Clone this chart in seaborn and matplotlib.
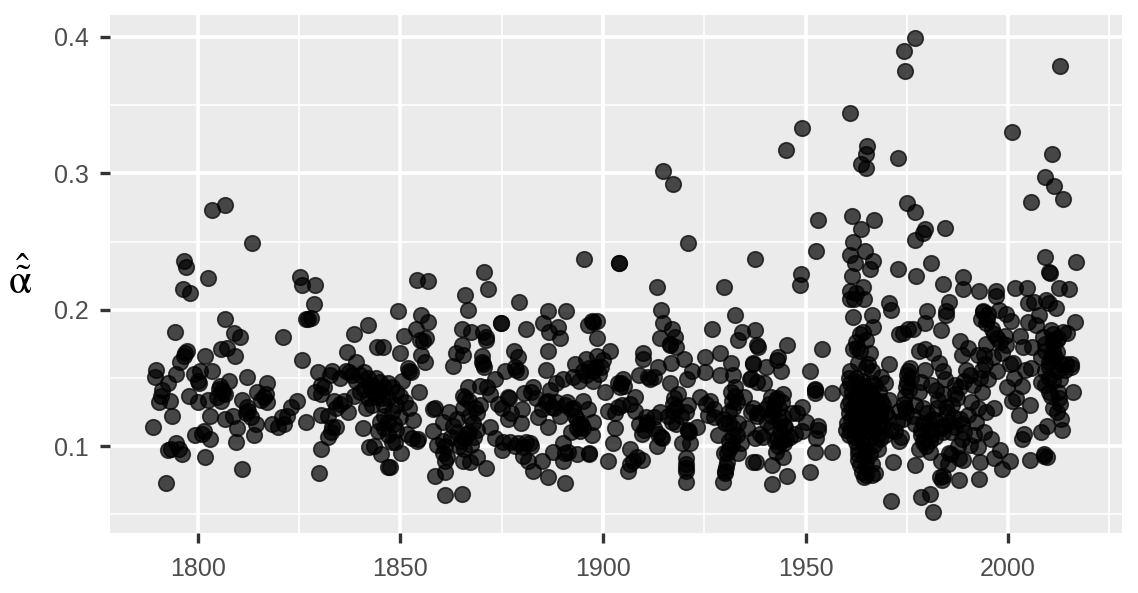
import seaborn as sns
import pandas as pd
import matplotlib
matplotlib.use("Agg")
import matplotlib.pyplot as plt
from matplotlib.ticker import MultipleLocator

# (year, alpha), split by period
pts_1789_1830 = [
    (1789, .114), (1789.7, .156), (1789.5, .151), (1792, .073), (1794.6, .153), (1792.6, .146),
    (1791, .137), (1793.2, .133), (1790.5, .132), (1791.2, .141), (1793.7, .122), (1794.6, .102), (1792.7, .097),
    (1793.4, .098), (1795.3, .098), (1796, .094), (1796.5, .236), (1797, .231), (1796.4, .215), (1798, .212),
    (1794.3, .184), (1797.2, .170), (1796.5, .166), (1795.7, .162), (1796.8, .168), (1799, .153), (1800.2, .146),
    (1800, .148), (1800.5, .155), (1801.7, .166), (1803.5, .155), (1797.8, .137), (1800, .132), (1802.5, .134),
    (1803, .122), (1802.6, .223), (1803.6, .273), (1806.8, .277), (1813.4, .249), (1806.7, .193), (1808.9, .183),
    (1810.5, .180), (1805.6, .171), (1807.2, .172), (1809.1, .166), (1807.7, .148), (1812.2, .151), (1805.2, .142),
    (1806, .141), (1804.8, .136), (1805.6, .133), (1806.8, .138), (1806.2, .139), (1805.4, .144), (1799.4, .108),
    (1801.5, .111), (1801, .109), (1802.9, .105), (1801.7, .092), (1806.7, .120), (1808.7, .122), (1809.7, .113),
    (1809.3, .103), (1810.8, .083), (1810.8, .134), (1812.2, .129), (1811.8, .124), (1813, .121), (1812.4, .126),
    (1814.3, .116), (1813.8, .108), (1814.6, .140), (1817, .146), (1816.3, .136), (1817.1, .132), (1816.7, .138),
    (1815.6, .134), (1818.4, .116), (1819.8, .114), (1821.2, .116), (1820.7, .121), (1821.9, .122), (1823.1, .129),
    (1824.5, .133), (1821, .180), (1826.7, .118), (1825.1, .224), (1825.6, .218), (1829, .218), (1828.6, .204),
    (1826.6, .193), (1827.8, .194), (1827.2, .193), (1825.8, .163), (1829.6, .154), (1830.3, .145), (1829, .140),
    (1830.3, .138), (1830.3, .123), (1830.5, .098), (1830, .080),
]

pts_1831_1857 = [
    (1832, .122), (1833.2, .114), (1832, .107), (1832.8, .110), (1834, .114), (1833.6, .133), (1833.2, .155),
    (1832.5, .152), (1831, .143), (1835, .131), (1836.9, .169), (1838.6, .182), (1842.1, .189), (1839, .162),
    (1837.3, .154), (1841, .154), (1840.7, .113), (1842.2, .099), (1844.3, .173), (1835, .150), (1836.5, .155),
    (1838, .152), (1839, .148), (1840, .152), (1842, .150), (1843, .145), (1841, .142), (1840, .140), (1838.5, .137),
    (1836, .133), (1834, .128), (1837, .125), (1842, .135), (1843, .130), (1844, .136), (1845, .140), (1846, .143),
    (1847, .146), (1848, .143), (1849, .140), (1850, .137), (1847, .135), (1846, .130), (1849, .130), (1851, .132),
    (1852, .128), (1848, .125), (1846, .122), (1845, .118), (1847, .118), (1848.5, .116), (1846, .113), (1844.5, .111),
    (1847, .108), (1848, .103), (1850.2, .095), (1845.3, .094), (1847, .085), (1847.5, .085), (1843.5, .100),
    (1844, .150), (1845, .147), (1842.5, .143), (1843.5, .139), (1845.5, .135), (1841.5, .128), (1849.3, .199),
    (1854.2, .222), (1856.9, .221), (1855, .196), (1856.8, .191), (1853.8, .186), (1850.8, .181), (1854.8, .178),
    (1856.3, .179), (1855.5, .177), (1845.6, .173), (1850, .168), (1855, .167), (1856, .162), (1851.9, .157),
    (1852.7, .154), (1852.2, .155), (1854.6, .140), (1853.1, .119), (1854.1, .104), (1854.3, .105), (1848.6, .103),
    (1850, .121), (1849, .112), (1851.5, .109), (1852.9, .106), (1850.5, .148),
]

pts_1858_1880 = [
    (1858.5, .128), (1858, .127), (1862, .125), (1858, .111), (1860.5, .118), (1859, .101), (1860.5, .104), (1861, .100),
    (1861.5, .092), (1861, .089), (1860.5, .095), (1862.5, .107), (1864, .110), (1864, .120), (1863, .115),
    (1858.5, .078), (1861, .081), (1861.1, .064), (1865.3, .065), (1865.5, .089), (1867.1, .088), (1868.9, .092),
    (1871, .084), (1866, .211), (1866.6, .200), (1870.7, .228), (1871.7, .215), (1865.3, .186), (1867.3, .184),
    (1870.4, .184), (1871.2, .178), (1871, .180), (1865.3, .174), (1863.7, .168), (1865.5, .167), (1863, .159),
    (1870.2, .166), (1870.4, .160), (1870.6, .158), (1870.2, .162), (1866.7, .143), (1865.4, .137), (1873.3, .149),
    (1871.3, .143), (1869.6, .144), (1872, .138), (1867, .133), (1866, .135), (1868.5, .128), (1865.5, .128),
    (1869, .124), (1867, .122), (1867.8, .117), (1866.3, .109), (1868.2, .107), (1867, .110), (1865, .104),
    (1866, .106), (1869, .112), (1869.6, .130), (1864.5, .100), (1865.8, .098), (1867.5, .101), (1872, .114),
    (1873.3, .106), (1875, .097), (1875.4, .103), (1878.2, .100), (1880.2, .099), (1881.9, .102), (1880.2, .093),
    (1881.5, .089), (1882.6, .082), (1874.8, .190), (1874.8, .190), (1879.2, .206), (1880.9, .186), (1878, .170),
    (1879, .165), (1875.8, .155), (1878.2, .158), (1879.4, .154), (1878.6, .156), (1876.6, .136), (1874.1, .131),
    (1875, .128), (1879.9, .127), (1877.4, .124), (1876.6, .120), (1879.7, .117), (1880.5, .139), (1876.9, .135),
    (1877, .103), (1879, .102), (1881, .103), (1882.2, .100),
]

pts_1881_1912 = [
    (1882.8, .143), (1882.2, .140), (1884, .121), (1886.3, .114), (1886, .132), (1888.5, .146), (1890.1, .149),
    (1886.9, .141), (1885, .089), (1886.3, .077), (1890.6, .073), (1886.3, .199), (1890.8, .199), (1885.2, .190),
    (1886.6, .184), (1888.9, .187), (1889.5, .179), (1886.5, .170), (1886, .156), (1892.6, .151), (1894, .148),
    (1893, .160), (1895.9, .164), (1895.1, .155), (1898.4, .166), (1901.7, .170), (1900, .163), (1897.4, .155),
    (1898.2, .158), (1896.5, .157), (1897.6, .148), (1895.4, .237), (1904, .234), (1904, .234), (1897.2, .192),
    (1898.4, .192), (1896.4, .189), (1897.6, .191), (1898.4, .179), (1900.5, .140), (1901.3, .126), (1903.7, .146),
    (1905, .149), (1904.2, .143), (1907.9, .136), (1906.7, .131), (1903.7, .129), (1907.9, .126), (1902.9, .113),
    (1902.5, .102), (1901.3, .089), (1896.5, .094), (1896.5, .095), (1893.5, .094), (1891.4, .096), (1887.7, .096),
    (1890.2, .089), (1890.2, .102), (1890.5, .095), (1897.6, .118), (1897.2, .108), (1892, .110), (1894.4, .111),
    (1895.1, .133), (1896.3, .127), (1893.5, .119), (1889.3, .122), (1891, .132), (1888.5, .132), (1886.5, .133),
    (1892.5, .128), (1893.5, .113), (1894.5, .116), (1906.6, .098), (1908.3, .092), (1909.5, .090), (1906.2, .082),
    (1906.6, .087), (1907.5, .089), (1909.5, .109), (1909, .116), (1910.7, .121), (1909.9, .168), (1909.9, .164),
    (1909, .152), (1911, .151), (1912.5, .151), (1911.5, .149), (1883.5, .135), (1885, .127), (1887.5, .129),
    (1894, .116), (1893, .122), (1895, .113), (1892, .127), (1890.5, .130), (1888, .128), (1895.8, .152), (1899, .153),
    (1899.6, .158), (1904.5, .146), (1905.2, .144), (1903, .124), (1904.8, .130), (1910, .112), (1910.8, .118),
]

pts_1913_1938 = [
    (1914.8, .302), (1917.3, .292), (1921, .249), (1937.6, .237), (1913.4, .217), (1929.8, .217), (1914.4, .200),
    (1914.9, .190), (1916.9, .186), (1914, .179), (1917.7, .180), (1916.5, .174), (1916.6, .175), (1918, .173),
    (1913.6, .158), (1916.7, .161), (1920, .164), (1925.1, .165), (1928.9, .168), (1932.6, .196), (1927, .186),
    (1934.4, .184), (1933.4, .178), (1937.6, .185), (1937.9, .174), (1931.7, .161), (1936.9, .161), (1921.9, .155),
    (1920.7, .149), (1925.2, .154), (1928.9, .152), (1932, .152), (1936.3, .149), (1916.5, .146), (1918.6, .138),
    (1917.3, .131), (1917.3, .126), (1917.5, .135), (1918, .128), (1921, .130), (1920.6, .125), (1919.2, .122),
    (1913.2, .100), (1914.4, .107), (1914.5, .106), (1914, .125), (1912.5, .121), (1910.8, .116), (1921, .111),
    (1921, .112), (1921.2, .110), (1923.3, .114), (1919.5, .102), (1921.5, .102), (1920.6, .091), (1920.4, .087),
    (1920.4, .082), (1920.4, .074), (1920.5, .084), (1924, .136), (1926.5, .133), (1926, .123), (1927.3, .121),
    (1930, .117), (1928.3, .108), (1932, .107), (1933.4, .117), (1934, .102), (1930.6, .095), (1929.9, .095),
    (1933.4, .095), (1930, .080), (1929.6, .074), (1930.4, .085), (1930.2, .082), (1937, .088), (1931.8, .133),
    (1932.5, .143), (1932, .128), (1934.8, .136), (1936.5, .125), (1935.6, .113), (1937.5, .106), (1938, .122),
    (1931, .125), (1932.2, .113), (1931.8, .101), (1931.2, .098), (1930.5, .088), (1931.5, .140), (1932.5, .137),
    (1933, .132), (1931, .117), (1929.5, .120), (1927.5, .127), (1925.5, .131), (1933, .108), (1931, .104),
    (1917, .118), (1916, .122), (1918, .116), (1912.5, .113), (1913.5, .109),
]

pts_1938_1959 = [
    (1948.9, .226), (1948.5, .218), (1953, .266), (1952.6, .243), (1938.2, .173),
    (1945.5, .174), (1943.2, .165), (1943, .163), (1940.3, .158), (1944, .155), (1937, .160), (1936.5, .150), (1939.8, .146),
    (1938, .147), (1944.5, .138), (1941.5, .136), (1942.3, .128), (1948, .124), (1949, .129), (1938, .124),
    (1937, .128), (1949, .111), (1953, .112), (1953, .115), (1952.6, .106), (1952.2, .096), (1956.4, .096), (1951.2, .081),
    (1945.5, .078), (1941.8, .072), (1941.6, .086), (1937.8, .088), (1944.4, .092), (1943.2, .100), (1944.6, .102),
    (1942.6, .096), (1939.6, .107), (1941.5, .114), (1945, .114), (1950, .118), (1951, .155), (1954, .171),
    (1952.2, .142), (1952.2, .139), (1952.3, .141), (1956.6, .139), (1949, .333), (1945.1, .317), (1943.5, .128),
    (1943.8, .110), (1945.2, .105), (1946.2, .107), (1947.5, .109), (1944.5, .121), (1940.4, .118), (1938.8, .109),
    (1942.4, .104), (1946.6, .124), (1944.2, .132), (1941.8, .122), (1941, .131), (1943, .135), (1942, .126),
    (1943.8, .118), (1944.7, .115), (1943, .106), (1944, .104), (1942.8, .134), (1940, .127),
]

pts_1960_1970 = [
    (1961, .344), (1965.1, .320), (1965, .314), (1963.7, .307), (1965, .304), (1961.4, .269), (1963.7, .259),
    (1967, .266), (1961.8, .250), (1964.7, .243), (1960.9, .240), (1966.6, .236), (1962.1, .234), (1966, .230),
    (1961.5, .225), (1960.9, .214), (1964.1, .217), (1962.4, .212), (1962, .208), (1964.5, .208), (1960.9, .208),
    (1961.8, .195), (1966.4, .196), (1966.6, .187), (1964.2, .184), (1963.4, .182), (1965, .178), (1961.7, .171),
    (1962.6, .172), (1965.8, .168), (1963, .161), (1965, .158), (1961, .155), (1962.5, .150), (1964, .148),
    (1966.5, .146), (1968.5, .151), (1970.5, .160), (1963, .146), (1961, .146), (1961.5, .140), (1963.3, .142),
    (1965, .140), (1962.1, .136), (1964.3, .135), (1966.5, .137), (1961, .133), (1963, .132), (1965, .131),
    (1967.3, .133), (1961.5, .128), (1963.5, .127), (1965.5, .127), (1960.6, .124), (1962.4, .124), (1964.6, .123),
    (1966.7, .124), (1968.6, .126), (1961.2, .120), (1963, .119), (1965, .118), (1967, .119), (1960.2, .117),
    (1962, .115), (1964, .114), (1966, .115), (1968, .116), (1961, .112), (1963, .110), (1965, .111), (1967, .112),
    (1962, .107), (1964, .106), (1966, .106), (1962.4, .103), (1964.4, .101), (1966.8, .101), (1963, .098),
    (1965, .097), (1967.8, .098), (1963, .094), (1964.5, .093), (1966, .094), (1963, .090), (1965, .089), (1963.5, .086),
    (1965, .085), (1966.5, .087), (1964, .081), (1965, .079), (1964.4, .077), (1967.2, .080), (1966.5, .079),
    (1962.8, .126), (1964.2, .129), (1962.2, .131), (1963.8, .116), (1962.6, .139), (1966, .141), (1964.5, .144),
    (1969.5, .146), (1969, .130), (1970.5, .134), (1968.8, .115), (1969.5, .108), (1970.3, .121), (1971, .112),
    (1960.4, .130), (1960.2, .142), (1960.6, .150), (1960, .112), (1960.8, .108), (1967.5, .127), (1968, .140),
    (1968.5, .133), (1967.8, .108), (1968.5, .120), (1969.8, .124), (1967.2, .145), (1962.5, .176), (1963.5, .170),
    (1965.5, .160), (1966.5, .155), (1966, .128), (1962, .122), (1968.3, .105),
]

pts_1971_1990 = [
    (1976.9, .399), (1974.4, .390), (1974.6, .375), (1972.9, .311), (1975, .278), (1977, .272), (1979.4, .259),
    (1979, .256), (1976.9, .251), (1984.3, .260), (1972.8, .230), (1977.3, .225), (1981, .234), (1983.9, .219),
    (1988.8, .224), (1988.8, .215), (1971.1, .200), (1985.5, .206), (1984.6, .199), (1979.9, .199), (1979.4, .190),
    (1984.7, .196), (1983.5, .185), (1976.5, .186), (1975.2, .186), (1973, .182), (1974, .183), (1970.5, .205),
    (1978.1, .170), (1979.4, .171), (1981.5, .168), (1983, .161), (1984, .155), (1975.8, .157), (1975.4, .155),
    (1975, .147), (1974.6, .137), (1974.2, .131), (1975, .152), (1974.7, .143), (1978.6, .147), (1982.2, .141),
    (1982.8, .134), (1984.7, .129), (1979, .128), (1976.5, .122), (1974, .120), (1972, .111), (1973, .104),
    (1973.5, .107), (1977, .116), (1979, .117), (1982, .119), (1984, .115), (1978.6, .108), (1978.6, .112),
    (1979.2, .105), (1979.6, .100), (1979, .103), (1977.9, .098), (1980.6, .096), (1982, .107), (1983.5, .113),
    (1985.4, .118), (1986.5, .121), (1984, .110), (1987, .114), (1985.5, .095), (1987.5, .100), (1983.4, .089),
    (1985.2, .087), (1985.8, .094), (1987.8, .091), (1988.8, .090), (1990.5, .101), (1976.9, .086), (1971.5, .088),
    (1971, .060), (1978.4, .063), (1980.8, .065), (1981.5, .052), (1983.6, .075), (1983.1, .077), (1987.8, .075),
    (1983.8, .078), (1988.5, .116), (1990.2, .123), (1988, .120), (1991.5, .108), (1989, .148), (1988, .143),
    (1987.4, .135), (1987, .138), (1986.2, .130), (1984.4, .149), (1989.6, .156), (1990.5, .152), (1988.5, .167),
    (1987, .145), (1990.8, .132), (1992.5, .128), (1990, .172), (1988, .177), (1980.5, .118), (1980.8, .112),
    (1981, .108), (1980.6, .104), (1981.2, .120), (1980, .124), (1974.5, .128), (1974.8, .125), (1975.6, .141),
    (1976, .150), (1973, .126), (1972.6, .118), (1977, .130), (1983.8, .138), (1985, .125), (1986, .110),
    (1988.6, .105), (1989, .110), (1982.5, .128), (1978, .140), (1981, .145), (1979.5, .156),
]

pts_1991_2018 = [
    (1992.9, .214), (1996.9, .214), (1996.9, .210), (2001.7, .216), (2004.6, .216), (2009, .239), (2010.2, .228),
    (2010.4, .227), (2016.8, .235), (2012.6, .216), (2014.9, .215), (2005.7, .279), (2013.5, .281), (2000.9, .330),
    (2010.9, .314), (2009, .297), (2011.3, .291), (2012.9, .379), (1993.8, .198), (1993.9, .199), (1993.4, .193),
    (1994.6, .190), (1997.8, .200), (1999.5, .197), (2000.7, .192), (2004.8, .205), (2006.4, .206), (2009.3, .207),
    (2010.2, .205), (2011.8, .201), (2007.7, .196), (2004.8, .191), (2006.8, .189), (2016.6, .191), (2013.6, .184),
    (2011, .176), (2011, .178), (2012, .178), (2012.2, .179), (2009, .175), (1994.4, .160), (1997.2, .179),
    (1998, .176), (1994.6, .175), (1999.2, .181), (1999.5, .174), (2002.8, .181), (2003.6, .173), (2006, .173),
    (2001.3, .161), (2004.1, .156), (2005.7, .157), (1996.2, .165), (1993.5, .156), (1993, .150), (1997.3, .155),
    (1999.7, .143), (2003.4, .144), (2008.1, .147), (2010, .140), (2012.8, .149), (2013, .160), (2015.5, .160),
    (2016, .140), (2012.9, .131), (2012, .125), (2013, .120), (2013.2, .112), (2009.5, .115), (2008, .110),
    (2003.8, .109), (2003.4, .105), (2002.6, .123), (2001, .133), (2002, .135), (2005.4, .130), (1991.2, .145),
    (1993.5, .140), (1994.5, .125), (1996.5, .128), (1992, .118), (1995.8, .105), (1994, .110), (1998, .097),
    (1993, .088), (1992.5, .099), (1996.5, .091), (2000.4, .089), (1992.8, .076), (1998.5, .083), (2005.5, .090),
    (2008.8, .094), (2008.9, .093), (2009.5, .092), (2011.5, .165), (2010.5, .165), (2009, .155), (2012, .155), (2014, .156), (2010.2, .158),
    (2011, .148), (2012.4, .140), (2010.5, .137), (2012.5, .135), (2008.6, .180), (2008, .165), (2009.2, .170),
    (2015.5, .158), (2014.4, .160), (1995, .197), (1994.8, .193), (1996, .186), (1996.6, .182), (1992.6, .167),
    (1994, .167), (1995, .149), (1998.6, .168), (2000.5, .160), (2001.5, .150), (2010, .162), (2011, .170),
    (2012, .169), (2010, .150), (2009, .145), (2011, .128), (2014.5, .183), (2011, .182), (2010.5, .185),
]

all_pts = (pts_1789_1830 + pts_1831_1857 + pts_1858_1880 + pts_1881_1912
           + pts_1913_1938 + pts_1938_1959 + pts_1960_1970 + pts_1971_1990 + pts_1991_2018)
df = pd.DataFrame(all_pts, columns=["year", "alpha"])

sns.set_theme(style="darkgrid", rc={"axes.facecolor": "#EBEBEB", "grid.color": "white"})
plt.rcParams["font.family"] = ["Liberation Sans", "DejaVu Sans"]
plt.rcParams["mathtext.fontset"] = "stix"

fig = plt.figure(figsize=(11.38, 5.93), dpi=100)
ax = fig.add_axes([110 / 1138, 1 - 533 / 593, 1012 / 1138, 518 / 593])

sns.scatterplot(data=df, x="year", y="alpha", color="black", alpha=0.7, s=125,
                linewidth=1.2, edgecolor="black", zorder=3, ax=ax)

ax.set_xlim(1778.3, 2028.1)
ax.set_ylim(0.0363, 0.4161)
ax.xaxis.set_major_locator(MultipleLocator(50))
ax.xaxis.set_minor_locator(MultipleLocator(25))
ax.yaxis.set_major_locator(MultipleLocator(0.1))
ax.yaxis.set_minor_locator(MultipleLocator(0.05))
ax.grid(which="major", color="white", linewidth=2.6)
ax.grid(which="minor", color="white", linewidth=1.2)
ax.set_axisbelow(True)
for s in ax.spines.values():
    s.set_visible(False)
ax.tick_params(which="major", length=7.5, width=2.4, color="#333333", labelcolor="#4D4D4D",
               labelsize=18, bottom=True, left=True)
ax.tick_params(axis="x", which="major", pad=10)
ax.tick_params(axis="y", which="major", pad=8)
ax.tick_params(which="minor", length=0)
ax.set_xlabel("")
ax.set_ylabel(r"$\hat{\tilde{\mathrm{\alpha}}}$", rotation=0, fontsize=30, color="black",
              va="center", ha="center")
ax.yaxis.set_label_coords(-0.0885, 0.488)

fig.savefig("out.png", dpi=100)
